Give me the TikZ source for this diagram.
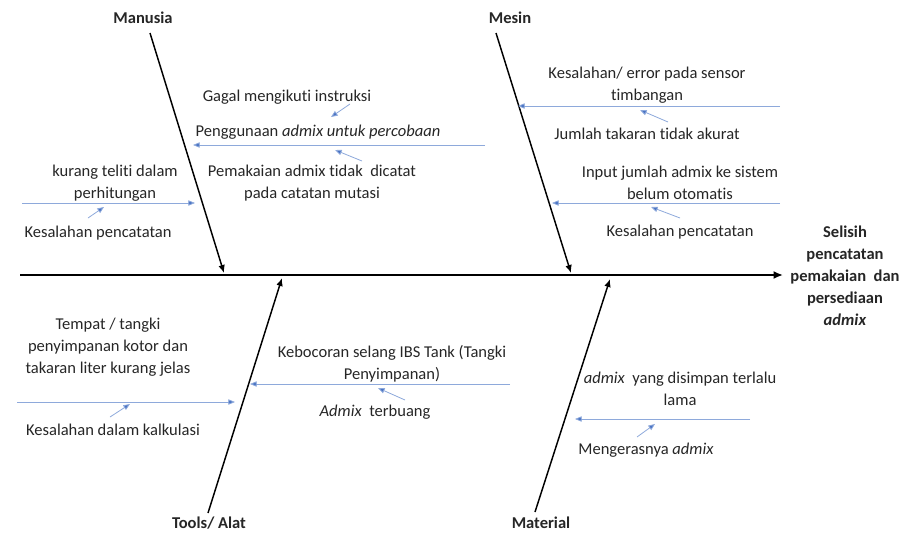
\documentclass[tikz,border=0pt]{standalone}
\usepackage{fontspec}
\setmainfont{Carlito}[Ligatures=NoCommon]
\usepackage{xcolor}
\usetikzlibrary{positioning, arrows.meta}
\definecolor{subblue}{HTML}{4A74C4}
\definecolor{sublight}{HTML}{8EA9DB}
\definecolor{txtgray}{HTML}{262626}

\begin{document}
\begin{tikzpicture}[x=0.75pt,y=-0.75pt,font=\fontsize{12.4}{16.5}\selectfont,text=txtgray]
	\tikzstyle{cause}=[font=\fontsize{12.4}{16.5}\selectfont\bfseries]
	\tikzstyle{txt}=[align=center,inner sep=0pt]
	\tikzstyle{bone}=[draw=black,line width=1.1pt,-{Latex[length=6pt,width=5pt]}]
	\tikzstyle{sub}=[draw=sublight,line width=0.6pt,-{Triangle[length=5pt,width=4pt,fill=subblue]}]
	\tikzstyle{twig}=[draw=sublight,line width=0.6pt,-{Triangle[length=5pt,width=4pt,fill=subblue]}]
	\useasboundingbox (0,0) rectangle (903,533);
	% spine
	\coordinate (s0) at (20,275);
	\node[txt,font=\fontsize{12.4}{16.5}\selectfont\bfseries](effect) at (845,276) {Selisih\\pencatatan\\pemakaian\ \ dan\\persediaan\\\textit{admix}};
	\draw[draw=black,line width=1.6pt,-{Latex[length=7pt,width=6pt]}](s0) -- (783,275) coordinate (s1);
	% main causes
	\node[cause](manusia) at (143,18) {Manusia};
	\node[cause](mesin) at (510,18) {Mesin};
	\node[cause](alat) at (209,523) {Tools/ Alat};
	\node[cause](material) at (541,523) {Material};
	\coordinate (m0) at (150,33); \coordinate (m1) at (224,273);
	\coordinate (e0) at (496,33); \coordinate (e1) at (571,273);
	\coordinate (a0) at (208,513); \coordinate (a1) at (282,278);
	\coordinate (t0) at (535,512); \coordinate (t1) at (610,279);
	\draw[bone](m0) -- (m1);
	\draw[bone](e0) -- (e1);
	\draw[bone](a0) -- (a1);
	\draw[bone](t0) -- (t1);
	% Manusia
	\node[txt](pakai) at (318,132) {Penggunaan \textit{admix untuk percobaan}};
	\node[txt](gagal) at (287,97) {Gagal mengikuti instruksi};
	\node[txt](catat) at (312,183) {Pemakaian admix tidak\ \ dicatat\\pada catatan mutasi};
	\coordinate (p0) at (485,145); \coordinate (p1) at (193,145);
	\draw[sub](p0) -- (p1);
	\draw[twig](350,104) coordinate (g0) -- (331,117) coordinate (g1);
	\draw[twig](362,161) coordinate (c0) -- (335,150) coordinate (c1);
	\node[txt](teliti) at (115,183) {kurang teliti dalam\\perhitungan};
	\node[txt](salah1) at (98,233) {Kesalahan pencatatan};
	\coordinate (k0) at (22,203); \coordinate (k1) at (195,203);
	\draw[sub](k0) -- (k1);
	\draw[twig](88,218) coordinate (l0) -- (104,207) coordinate (l1);
	% Mesin
	\node[txt](sensor) at (647,85) {Kesalahan/ error pada sensor\\timbangan};
	\node[txt](takaran) at (647,134) {Jumlah takaran tidak akurat};
	\coordinate (n0) at (780,106); \coordinate (n1) at (518,106);
	\draw[sub](n0) -- (n1);
	\draw[twig](668,122) coordinate (j0) -- (640,110) coordinate (j1);
	\node[txt](input) at (680,183) {Input jumlah admix ke sistem\\belum otomatis};
	\node[txt](salah2) at (680,232) {Kesalahan pencatatan};
	\coordinate (i0) at (780,203); \coordinate (i1) at (552,203);
	\draw[sub](i0) -- (i1);
	\draw[twig](680,218) coordinate (q0) -- (651,207) coordinate (q1);
	% Tools/ Alat
	\node[txt](tempat) at (108,347) {Tempat / tangki\\penyimpanan kotor dan\\takaran liter kurang jelas};
	\node[txt](kalkulasi) at (113,430) {Kesalahan dalam kalkulasi};
	\coordinate (r0) at (17,402); \coordinate (r1) at (235,402);
	\draw[sub](r0) -- (r1);
	\draw[twig](110,417) coordinate (u0) -- (130,404) coordinate (u1);
	\node[txt](bocor) at (392,364) {Kebocoran selang IBS Tank (Tangki\\Penyimpanan)};
	\node[txt](buang) at (375,412) {\textit{Admix}\ \ terbuang};
	\coordinate (b0) at (510,384); \coordinate (b1) at (250,384);
	\draw[sub](b0) -- (b1);
	\draw[twig](405,400) coordinate (v0) -- (378,388) coordinate (v1);
	% Material
	\node[txt](simpan) at (680,389) {\textit{admix}\ \ yang disimpan terlalu\\lama};
	\node[txt](keras) at (646,450) {Mengerasnya \textit{admix}};
	\coordinate (d0) at (750,419); \coordinate (d1) at (575,419);
	\draw[sub](d0) -- (d1);
	\draw[twig](637,437) coordinate (w0) -- (655,424) coordinate (w1);
\end{tikzpicture}
\end{document}
